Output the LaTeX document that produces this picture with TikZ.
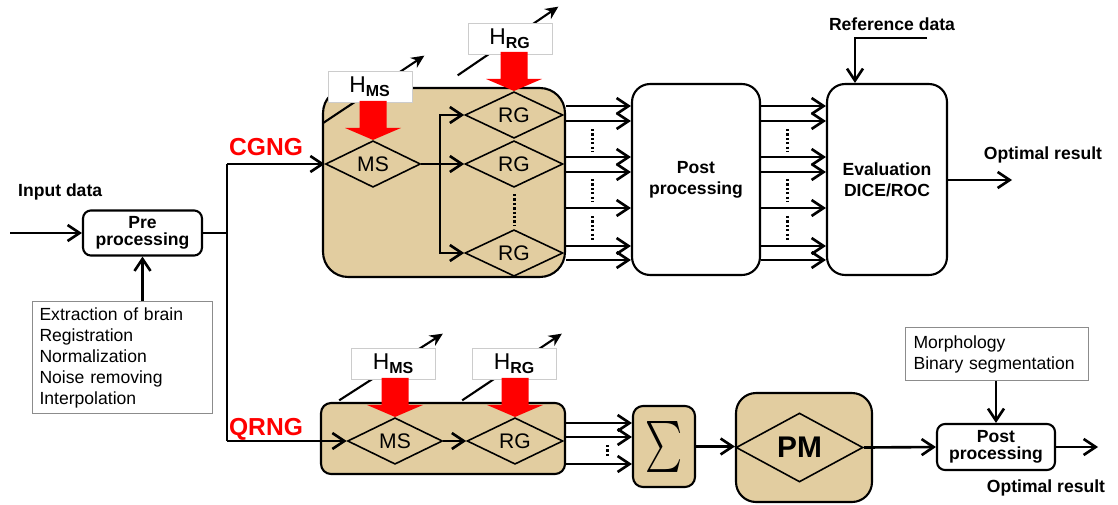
\documentclass[tikz,border=0pt]{standalone}
\usepackage{fontspec}
\setmainfont{Liberation Sans}
\usetikzlibrary{positioning,arrows.meta,shapes.geometric,calc}
\definecolor{papyrus}{RGB}{226,205,160}

\begin{document}
\begin{tikzpicture}[x=0.02cm, y=-0.02cm,
  font=\fontsize{10}{12}\selectfont, >={Straight Barb[length=2.4mm,width=3.2mm]},
  ar/.style={->, line width=1.5pt},
  ln/.style={line width=1.5pt},
  blk/.style={draw, line width=1.2pt, fill=papyrus, rounded corners=#1}, blk/.default=2mm,
  bx/.style={draw, line width=1.2pt, fill=white, rounded corners=#1, align=center,
    font=\fontsize{10}{12}\selectfont\bfseries}, bx/.default=1.6mm,
  dm/.style={diamond, draw, line width=0.9pt, inner sep=0pt, font=\fontsize{12}{12}\selectfont},
  hb/.style={draw=black!20, fill=white, minimum width=16.8mm, minimum height=6mm,
    font=\fontsize{13}{13}\selectfont},
  gb/.style={draw=black!45, line width=0.6pt, fill=white, align=left, anchor=north west},
  lb/.style={font=\fontsize{10}{12}\selectfont\bfseries},
  cl/.style={text=red, font=\fontsize{14}{14}\selectfont\bfseries},
  dt/.style={line width=1.7pt, dash pattern=on 1.3pt off 1.2pt},
  hv/.style={-{Stealth[length=2.6mm,width=2.4mm]}, line width=1.2pt},
  hin/.pic={\fill[red] (0,0) -- (-28,-12) -- (-13.5,-12) -- (-13.5,-39) -- (13.5,-39) -- (13.5,-12) -- (28,-12) -- cycle;}]
\useasboundingbox (0,0) rectangle (1118,504);

% input and preprocessing
\node[lb, anchor=west] (inl) at (12,192) {Input data};
\coordinate (in) at (10,233);
\node[bx, minimum width=23.8mm, minimum height=8.8mm] (pre) at (142.5,233) {Pre\\[-2pt]processing};
\node[gb, text width=33.2mm, inner xsep=1.4mm, minimum height=22.4mm] (steps) at (32,301)
  {Extraction of brain\\Registration\\Normalization\\Noise removing\\Interpolation};
\draw[ar] (in) -- (pre.west);
\draw[ar] (pre.south |- steps.north) -- (pre.south);
\coordinate (jc) at (227,164);
\coordinate (jq) at (227,441);
\draw[ln] (pre.east) -- (pre.east -| jc);
\draw[ln] (jc) -- (jq);
\node[cl] (cgl) at (266,147) {CGNG};
\node[cl] (qrl) at (266,429) {QRNG};

% CGNG block
\node[blk=5mm, minimum width=48.4mm, minimum height=37.8mm] (cg) at (444,182.5) {};
\node[hb] (hms1) at (370,87) {};
\node[hb] (hrg1) at (510,39) {};
\draw[hv] ([shift={(-5,21)}]hms1.south west) -- ([shift={(12,-16)}]hms1.north east);
\draw[hv] ([shift={(-10,21)}]hrg1.south west) -- ([shift={(6,-17)}]hrg1.north east);
\node[hb] at (hms1) {H\textsubscript{\bfseries MS}};
\node[hb] at (hrg1) {H\textsubscript{\bfseries RG}};
\node[dm, minimum width=19mm, minimum height=9.2mm] (ms1) at (373,164) {MS};
\node[dm, minimum width=19.6mm, minimum height=8.8mm] (rg1) at (514,115) {RG};
\node[dm, minimum width=19.6mm, minimum height=8.8mm] (rg2) at (514,164) {RG};
\node[dm, minimum width=19.6mm, minimum height=8.8mm] (rg3) at (514,253) {RG};
\pic at (ms1.north) {hin};
\pic at (rg1.north) {hin};
\coordinate (br) at (440,164);
\draw[ar] (jc) -- (ms1.west);
\draw[ar] (ms1.east) -- (rg2.west);
\draw[ar] (br) |- (rg1.west);
\draw[ar] (br) |- (rg3.west);
\draw[dt] ([yshift=-1.2mm]rg2.south) -- ([yshift=0.6mm]rg3.north);

% post processing and evaluation
\node[bx=3.6mm, minimum width=25.6mm, minimum height=38.2mm] (post) at (696,179.5) {Post\\processing};
\node[bx=3.6mm, minimum width=24mm, minimum height=38.2mm] (eval) at (887,179.5) {Evaluation\\DICE/ROC};
\foreach \y in {106,121,157,172,208,246,260}{
  \draw[ar] (cg.east |- 0,\y) -- (post.west |- 0,\y);
  \draw[ar] (post.east |- 0,\y) -- (eval.west |- 0,\y);
}
\foreach \a/\b in {129/152,179/202,216/240}{
  \draw[dt] (592,\a) -- (592,\b);
  \draw[dt] (787,\a) -- (787,\b);
}
\node[lb] (refl) at (892,24) {Reference data};
\coordinate (ref) at (927,38);
\draw[ar] (ref) -| ([xshift=-6.4mm]eval.north);
\node[lb] (optl1) at (1043,155) {Optimal result};
\coordinate (out1) at (1012,180);
\draw[ar] (eval.east |- out1) -- (out1);

% QRNG block
\node[blk=2mm, minimum width=48.8mm, minimum height=14.2mm] (qr) at (443,438.5) {};
\node[hb] (hms2) at (393.5,364) {};
\node[hb] (hrg2) at (514.5,364) {};
\draw[hv] ([shift={(-12,21)}]hms2.south west) -- ([shift={(7,-15)}]hms2.north east);
\draw[hv] ([shift={(-10,21)}]hrg2.south west) -- ([shift={(5,-15)}]hrg2.north east);
\node[hb] at (hms2) {H\textsubscript{\bfseries MS}};
\node[hb] at (hrg2) {H\textsubscript{\bfseries RG}};
\node[dm, minimum width=19mm, minimum height=9.2mm] (ms2) at (395,441) {MS};
\node[dm, minimum width=19.2mm, minimum height=9.2mm] (rg4) at (515,441) {RG};
\pic at (ms2.north) {hin};
\pic at (rg4.north) {hin};
\draw[ar] (jq) -- (ms2.west);
\draw[ar] (ms2.east) -- (rg4.west);

% sum, PM and post processing
\node[blk=2mm, minimum width=12.4mm, minimum height=16.2mm] (sig) at (664,446.5) {\scalebox{2}[2.9]{$\sum$}};
\foreach \y in {423,437,464}
  \draw[ar] (qr.east |- 0,\y) -- (sig.west |- 0,\y);
\draw[dt] (607,445) -- (607,458);
\node[blk=4mm, minimum width=27.2mm, minimum height=21.8mm] (pm) at (804,447.5) {};
\node[dm, minimum width=25.4mm, minimum height=13.8mm, font=\fontsize{17}{17}\selectfont\bfseries] (pmd) at (799.5,447.5) {PM};
\draw[ar] (sig.east) -- (sig.east -| pm.west);
\node[bx, minimum width=23.6mm, minimum height=9.2mm] (post2) at (996,447) {Post\\[-2pt]processing};
\node[gb, text width=33.4mm, inner xsep=1.6mm, minimum height=10.6mm] (morph) at (905,327)
  {Morphology\\Binary segmentation};
\draw[ar] (pmd.east) -- (post2.west);
\draw[ar] (morph.south -| post2.north) -- (post2.north);
\coordinate (out2) at (1098,447);
\draw[ar] (post2.east) -- (out2);
\node[lb] (optl2) at (1046,488) {Optimal result};
\end{tikzpicture}
\end{document}
